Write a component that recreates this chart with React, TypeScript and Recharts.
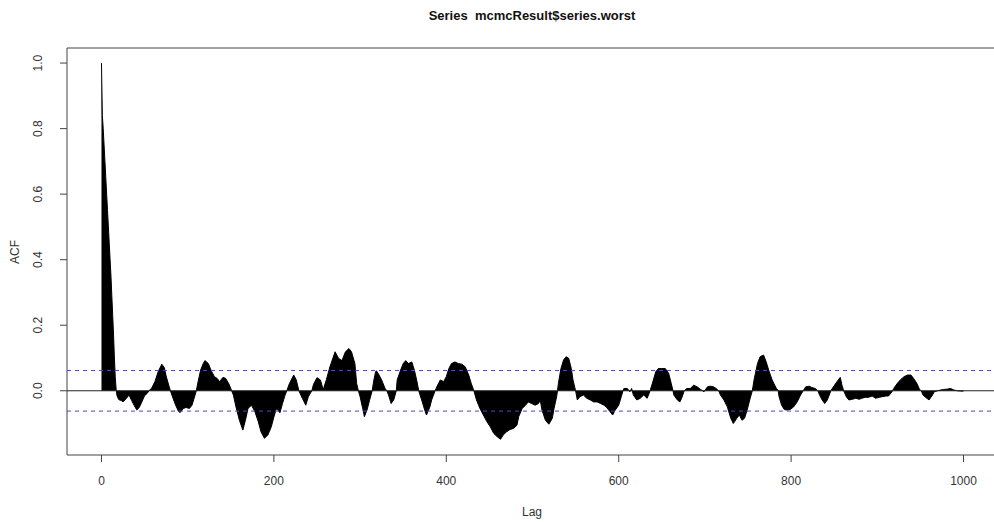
import React from 'react';
import { ComposedChart, Area, XAxis, YAxis, ReferenceLine, ReferenceArea } from 'recharts';

// lags (not every lag, only where the shape changes)
const lags = [
  0, 1, 2, 3, 4, 5, 6, 7, 8, 9, 10, 11, 12, 13, 14, 15, 16, 17, 18, 20,
  23, 25, 29, 32, 35, 38, 41, 44, 46, 50, 53, 56, 58, 62, 66, 70, 73, 75, 78, 80,
  83, 86, 89, 91, 95, 98, 102, 105, 108, 110, 112, 115, 118, 120, 124, 127, 131, 134, 137, 141,
  144, 148, 151, 153, 156, 160, 164, 167, 170, 174, 178, 182, 185, 189, 193, 197, 200, 203, 207, 210,
  213, 215, 218, 223, 226, 229, 233, 237, 240, 244, 246, 250, 254, 257, 258, 261, 265, 271, 275, 279,
  283, 287, 290, 294, 296, 298, 300, 303, 305, 308, 311, 314, 316, 318, 319, 322, 325, 329, 331, 333,
  336, 339, 342, 343, 347, 350, 353, 356, 360, 363, 366, 368, 372, 375, 377, 381, 383, 387, 389, 393,
  397, 400, 403, 406, 410, 414, 418, 422, 426, 429, 432, 435, 439, 443, 447, 451, 455, 459, 463, 466,
  470, 474, 478, 482, 484, 488, 492, 495, 499, 503, 507, 509, 511, 515, 519, 523, 525, 528, 529, 530,
  533, 536, 539, 542, 545, 547, 550, 552, 555, 559, 563, 567, 571, 575, 579, 583, 586, 590, 593, 596,
  600, 603, 605, 606, 610, 613, 615, 617, 621, 625, 629, 633, 636, 639, 643, 646, 650, 654, 658, 661,
  663, 664, 668, 671, 673, 676, 679, 683, 687, 691, 695, 699, 703, 706, 710, 713, 716, 718, 722, 726,
  730, 733, 737, 740, 743, 746, 749, 752, 755, 757, 761, 764, 768, 771, 774, 778, 781, 783, 785, 786,
  789, 792, 795, 799, 803, 807, 811, 814, 817, 821, 824, 828, 831, 833, 836, 839, 842, 845, 846, 849,
  853, 857, 859, 861, 864, 867, 871, 875, 879, 882, 886, 890, 894, 898, 902, 906, 910, 913, 917, 919,
  923, 927, 931, 935, 939, 942, 946, 949, 951, 953, 956, 960, 964, 966, 970, 973, 977, 981, 985, 989,
  993, 997, 1000,
];

const acfValues = [
  1.0, 0.84, 0.8, 0.75, 0.7, 0.65, 0.6, 0.55, 0.5, 0.45, 0.4, 0.35, 0.29, 0.23, 0.17, 0.1, 0.04, 0.005, -0.015, -0.027,
  -0.03, -0.034, -0.023, -0.013, -0.03, -0.045, -0.059, -0.05, -0.039, -0.015, -0.008, 0.003, 0.007, 0.028, 0.06, 0.081, 0.07, 0.045, 0.017, 0,
  -0.023, -0.044, -0.061, -0.067, -0.054, -0.051, -0.054, -0.044, -0.018, 0, 0.027, 0.063, 0.083, 0.092, 0.083, 0.063, 0.043, 0.038, 0.028, 0.041,
  0.038, 0.02, 0, -0.013, -0.049, -0.09, -0.12, -0.09, -0.054, -0.044, -0.064, -0.095, -0.125, -0.145, -0.135, -0.11, -0.08, -0.054, -0.067, -0.039,
  -0.013, 0, 0.022, 0.048, 0.033, 0, -0.023, -0.044, -0.018, 0, 0.02, 0.04, 0.033, 0.005, 0.01, 0.035, 0.073, 0.119, 0.099, 0.092,
  0.119, 0.129, 0.119, 0.083, 0.022, 0, -0.018, -0.054, -0.079, -0.059, -0.029, 0, 0.033, 0.058, 0.061, 0.048, 0.033, 0.007, 0, -0.013,
  -0.039, -0.028, 0, 0.033, 0.063, 0.083, 0.092, 0.083, 0.088, 0.063, 0.028, 0, -0.033, -0.059, -0.074, -0.049, -0.028, 0, 0.012, 0.033,
  0.028, 0.043, 0.068, 0.083, 0.088, 0.083, 0.081, 0.073, 0.048, 0.022, 0, -0.028, -0.054, -0.074, -0.094, -0.11, -0.13, -0.14, -0.148, -0.135,
  -0.125, -0.118, -0.115, -0.105, -0.079, -0.054, -0.044, -0.034, -0.039, -0.044, -0.039, -0.028, -0.059, -0.09, -0.102, -0.084, -0.054, -0.018, 0, 0.022,
  0.068, 0.094, 0.104, 0.099, 0.068, 0.033, 0, -0.028, -0.018, -0.013, -0.023, -0.028, -0.034, -0.034, -0.039, -0.044, -0.051, -0.064, -0.074, -0.059,
  -0.044, -0.018, 0, 0.007, 0.007, -0.003, 0.007, -0.013, -0.028, -0.023, -0.013, -0.023, -0.003, 0.022, 0.058, 0.068, 0.068, 0.068, 0.053, 0.022,
  0, -0.013, -0.028, -0.034, -0.023, 0, 0.007, 0.007, 0.017, 0.012, 0.004, -0.003, 0.012, 0.014, 0.012, 0.007, 0, -0.013, -0.028, -0.049,
  -0.084, -0.1, -0.084, -0.074, -0.09, -0.084, -0.059, -0.028, 0, 0.033, 0.083, 0.104, 0.109, 0.089, 0.063, 0.033, 0.017, 0.007, 0, -0.018,
  -0.044, -0.057, -0.059, -0.057, -0.049, -0.034, -0.013, 0, 0.012, 0.014, 0.01, 0.007, 0, -0.013, -0.028, -0.039, -0.028, -0.008, 0, 0.012,
  0.027, 0.041, 0.017, 0, -0.018, -0.028, -0.026, -0.023, -0.026, -0.023, -0.02, -0.02, -0.016, -0.023, -0.02, -0.018, -0.016, -0.016, -0.003, 0.007,
  0.022, 0.034, 0.043, 0.048, 0.048, 0.038, 0.022, 0.004, 0, -0.013, -0.02, -0.028, -0.013, -0.003, 0, 0.002, 0.004, 0.005, 0.007, 0.002,
  0, -0.001, -0.001,
];

const xTicks = [0, 200, 400, 600, 800, 1000];
const yTicks = [0, 0.2, 0.4, 0.6, 0.8, 1.0];
const ciBound = 0.062;

const data = lags.map((lag, i) => ({ lag, acf: acfValues[i] }));

const FONT = '"Liberation Sans", Arial, sans-serif';

const YTick = (props: any) => {
  const { x, y, payload } = props;
  return (
    <text
      x={x}
      y={y}
      transform={`rotate(-90, ${x}, ${y})`}
      textAnchor="middle"
      dominantBaseline="central"
      fontSize={12}
      fontFamily={FONT}
      fill="#333"
    >
      {Number(payload.value).toFixed(1)}
    </text>
  );
};

export default function App() {
  return (
    <div style={{ position: 'absolute', left: 0, top: 0, width: 994, height: 522, overflow: 'hidden', background: '#fff' }}>
      <ComposedChart width={998} height={522} data={data} margin={{ top: 48, right: 0, bottom: 7, left: 7 }}>
        <XAxis
          type="number"
          dataKey="lag"
          domain={[-40, 1040]}
          ticks={xTicks}
          allowDataOverflow
          axisLine={false}
          tickLine={{ stroke: '#444' }}
          tickSize={7}
          tickMargin={14}
          height={60}
          tick={{ fill: '#333', fontSize: 12, fontFamily: FONT }}
        />
        <YAxis
          type="number"
          domain={[-0.196, 1.046]}
          ticks={yTicks}
          allowDataOverflow
          axisLine={false}
          tickLine={{ stroke: '#444' }}
          tickSize={7}
          tickMargin={22}
          width={60}
          tick={<YTick />}
        />
        <Area
          type="linear"
          dataKey="acf"
          baseValue={0}
          stroke="#000"
          strokeWidth={1}
          fill="#000"
          fillOpacity={1}
          dot={false}
          activeDot={false}
          isAnimationActive={false}
        />
        <ReferenceLine y={0} stroke="#222" strokeWidth={1} />
        <ReferenceLine y={ciBound} stroke="#4a4ab8" strokeWidth={1} strokeDasharray="4 4" />
        <ReferenceLine y={-ciBound} stroke="#4a4ab8" strokeWidth={1} strokeDasharray="4 4" />
        <ReferenceArea x1={-40} x2={1040} y1={-0.196} y2={1.046} fill="none" stroke="#444" strokeWidth={1} ifOverflow="visible" />
      </ComposedChart>
      <svg width={994} height={522} style={{ position: 'absolute', left: 0, top: 0, pointerEvents: 'none' }}>
        <text x={532} y={20} textAnchor="middle" fontSize={13} fontWeight="bold" fontFamily={FONT} fill="#111" style={{ whiteSpace: 'pre' }}>
          {'Series  mcmcResult$series.worst'}
        </text>
        <text x={532} y={516} textAnchor="middle" fontSize={12} fontFamily={FONT} fill="#333">
          Lag
        </text>
        <text x={15} y={252} transform="rotate(-90, 15, 252)" textAnchor="middle" dominantBaseline="central" fontSize={12} fontFamily={FONT} fill="#333">
          ACF
        </text>
      </svg>
    </div>
  );
}
